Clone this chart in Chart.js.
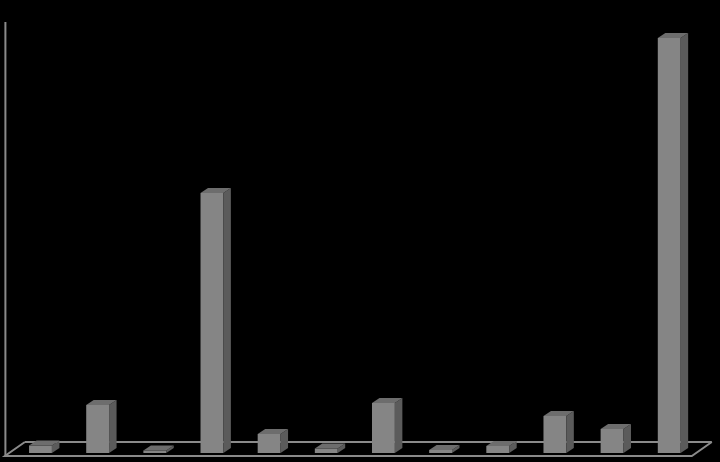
<!DOCTYPE html>
<html>
<head>
<meta charset="utf-8">
<script src="https://cdn.jsdelivr.net/npm/chart.js@4/dist/chart.umd.min.js"></script>
<style>
html,body{margin:0;padding:0;background:#000;}
canvas{display:block;}
</style>
</head>
<body>
<canvas id="c" width="720" height="462"></canvas>
<script>
const categories = ['1','2','3','4','5','6','7','8','9','10','11','12'];
const values = [7.5, 48, 2.5, 260, 19, 4.5, 50, 3, 7, 37, 24, 415];
const yMax = 420;

const FRONT = '#858585', SIDE = '#5b5b5b', TOP = '#6d6d6d', LINE = '#8a8a8a';
const DX = 7.5, DY = -5;

const box3d = {
  id: 'box3d',
  beforeDatasetsDraw(chart) {
    const ctx = chart.ctx, a = chart.chartArea;
    const base = chart.scales.y.getPixelForValue(0);
    ctx.save();
    ctx.strokeStyle = LINE; ctx.lineWidth = 2;
    ctx.beginPath();
    ctx.moveTo(a.left - 7 + 20, base + 3 - 14);
    ctx.lineTo(a.right - 6 + 20, base + 3 - 14);
    ctx.stroke();
    ctx.restore();
  },
  afterDatasetsDraw(chart) {
    const ctx = chart.ctx, a = chart.chartArea;
    const base = chart.scales.y.getPixelForValue(0);
    const meta = chart.getDatasetMeta(0);
    ctx.save();
    meta.data.forEach(bar => {
      const p = bar.getProps(['x','y','base','width'], true);
      const l = p.x - p.width/2, r = p.x + p.width/2, t = p.y, b = p.base;
      ctx.fillStyle = SIDE;
      ctx.beginPath();
      ctx.moveTo(r, t); ctx.lineTo(r + DX, t + DY); ctx.lineTo(r + DX, b + DY); ctx.lineTo(r, b);
      ctx.closePath(); ctx.fill();
      ctx.fillStyle = TOP;
      ctx.beginPath();
      ctx.moveTo(l, t); ctx.lineTo(l + DX, t + DY); ctx.lineTo(r + DX, t + DY); ctx.lineTo(r, t);
      ctx.closePath(); ctx.fill();
    });
    ctx.strokeStyle = LINE; ctx.lineWidth = 2;
    const fl = a.left - 7, fr = a.right - 6, fy = base + 3;
    ctx.beginPath();
    ctx.moveTo(fl + 20, fy - 14); ctx.lineTo(fl, fy); ctx.lineTo(fr, fy); ctx.lineTo(fr + 20, fy - 14);
    ctx.stroke();
    ctx.beginPath();
    ctx.moveTo(fl + 0.5, 22); ctx.lineTo(fl + 0.5, fy);
    ctx.stroke();
    ctx.restore();
  }
};

new Chart(document.getElementById('c'), {
  type: 'bar',
  data: {
    labels: categories,
    datasets: [{
      data: values,
      backgroundColor: FRONT,
      borderWidth: 0,
      barPercentage: 0.8,
      categoryPercentage: 0.5
    }]
  },
  options: {
    responsive: false,
    animation: false,
    devicePixelRatio: 1,
    layout: { padding: { left: 11.9, right: 22.2, top: 33, bottom: 9 } },
    plugins: { legend: { display: false }, tooltip: { enabled: false } },
    scales: {
      x: { display: false },
      y: { display: false, min: 0, max: yMax }
    }
  },
  plugins: [box3d, {
    id: 'bg',
    beforeDraw(chart) {
      const ctx = chart.ctx;
      ctx.save(); ctx.fillStyle = '#000'; ctx.fillRect(0, 0, chart.width, chart.height); ctx.restore();
    }
  }]
});
</script>
</body>
</html>
